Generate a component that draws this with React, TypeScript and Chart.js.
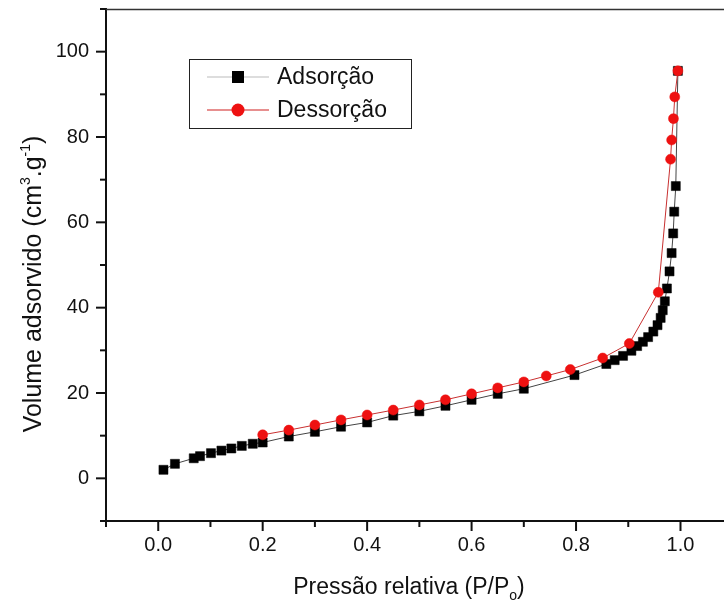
import React, { useEffect, useRef } from "react";
import { Chart, registerables } from "chart.js";

Chart.register(...registerables);

// Adsorption branch (relative pressure P/Po, volume cm3/g)
const adsP = [0.010, 0.032, 0.068, 0.080, 0.101, 0.121, 0.140, 0.160, 0.181, 0.200, 0.250, 0.300, 0.350, 0.400, 0.450, 0.500, 0.550, 0.600, 0.650, 0.700, 0.797, 0.858, 0.874, 0.890, 0.906, 0.917, 0.928, 0.938, 0.948, 0.956, 0.962, 0.966, 0.970, 0.974, 0.979, 0.983, 0.986, 0.988, 0.991, 0.995];
const adsV = [2.0, 3.4, 4.7, 5.2, 5.9, 6.5, 7.0, 7.6, 8.1, 8.4, 9.8, 10.9, 12.1, 13.1, 14.7, 15.7, 17.0, 18.4, 19.8, 21.0, 24.2, 26.8, 27.7, 28.7, 29.9, 31.0, 32.0, 33.1, 34.4, 35.9, 37.6, 39.4, 41.5, 44.5, 48.5, 52.8, 57.4, 62.5, 68.5, 95.5];

// Desorption branch
const desP = [0.995, 0.989, 0.9865, 0.983, 0.981, 0.9575, 0.902, 0.851, 0.789, 0.743, 0.700, 0.650, 0.600, 0.550, 0.500, 0.450, 0.400, 0.350, 0.300, 0.250, 0.200];
const desV = [95.5, 89.4, 84.3, 79.3, 74.8, 43.6, 31.6, 28.2, 25.5, 24.0, 22.6, 21.2, 19.8, 18.4, 17.2, 16.0, 14.85, 13.7, 12.5, 11.3, 10.2];

const seriesNames = ["Adsorção", "Dessorção"];
const xTitleMain = "Pressão relativa (P/P";
const xTitleSub = "o";
const yTitleParts = ["Volume adsorvido (cm", "3", ".g", "-1", ")"];

const FONT = '"Liberation Sans", Arial, sans-serif';

type Run = { t: string; size: number; dy: number };

function drawRuns(ctx: CanvasRenderingContext2D, runs: Run[], cx: number, baseY: number) {
  let total = 0;
  const widths: number[] = [];
  for (const r of runs) {
    ctx.font = `${r.size}px ${FONT}`;
    const w = ctx.measureText(r.t).width;
    widths.push(w);
    total += w;
  }
  let x = cx - total / 2;
  ctx.textAlign = "left";
  ctx.textBaseline = "alphabetic";
  runs.forEach((r, i) => {
    ctx.font = `${r.size}px ${FONT}`;
    ctx.fillText(r.t, x, baseY + r.dy);
    x += widths[i];
  });
}

const decorPlugin = {
  id: "decor",
  afterDraw(chart: any) {
    const { ctx, chartArea } = chart;
    const xs = chart.scales.x;
    const ys = chart.scales.y;
    ctx.save();
    // top frame line
    ctx.strokeStyle = "#333";
    ctx.lineWidth = 1.5;
    ctx.beginPath();
    ctx.moveTo(chartArea.left, chartArea.top + 0.5);
    ctx.lineTo(chart.width, chartArea.top + 0.5);
    ctx.stroke();

    // tick marks
    ctx.strokeStyle = "#111";
    ctx.lineWidth = 2;
    for (let k = -1; k <= 11; k++) {
      const v = k * 10;
      const py = ys.getPixelForValue(v);
      const len = k % 2 === 0 ? 10 : 6;
      ctx.beginPath();
      ctx.moveTo(chartArea.left - len, py);
      ctx.lineTo(chartArea.left, py);
      ctx.stroke();
    }
    for (let k = -1; k <= 10; k++) {
      const v = k / 10;
      const px = xs.getPixelForValue(v);
      const len = k % 2 === 0 ? 10 : 6;
      ctx.beginPath();
      ctx.moveTo(px, chartArea.bottom);
      ctx.lineTo(px, chartArea.bottom + len);
      ctx.stroke();
    }

    // axis titles
    ctx.fillStyle = "#111";
    drawRuns(
      ctx,
      [
        { t: xTitleMain, size: 23, dy: 0 },
        { t: xTitleSub, size: 14, dy: 6 },
        { t: ")", size: 23, dy: 0 },
      ],
      409,
      594
    );
    ctx.save();
    ctx.translate(32, 284);
    ctx.rotate(-Math.PI / 2);
    drawRuns(
      ctx,
      [
        { t: yTitleParts[0], size: 25, dy: 0 },
        { t: yTitleParts[1], size: 14, dy: -11 },
        { t: yTitleParts[2], size: 25, dy: 0 },
        { t: yTitleParts[3], size: 14, dy: -11 },
        { t: yTitleParts[4], size: 25, dy: 0 },
      ],
      0,
      9
    );
    ctx.restore();

    // legend
    const bx = 189.5, by = 59.5, bw = 222, bh = 69;
    ctx.fillStyle = "#fff";
    ctx.fillRect(bx, by, bw, bh);
    ctx.strokeStyle = "#222";
    ctx.lineWidth = 1;
    ctx.strokeRect(bx, by, bw, bh);
    const rows = [
      { y: 77, line: "#bbbbbb", kind: "rect" },
      { y: 110, line: "#d02020", kind: "circle" },
    ];
    rows.forEach((r, i) => {
      ctx.strokeStyle = r.line;
      ctx.lineWidth = 1.2;
      ctx.beginPath();
      ctx.moveTo(207, r.y);
      ctx.lineTo(269, r.y);
      ctx.stroke();
      if (r.kind === "rect") {
        ctx.fillStyle = "#000";
        ctx.fillRect(238 - 6, r.y - 6, 12, 12);
      } else {
        ctx.fillStyle = "#ee1111";
        ctx.beginPath();
        ctx.arc(238, r.y, 6.5, 0, Math.PI * 2);
        ctx.fill();
      }
      ctx.fillStyle = "#111";
      ctx.font = `23px ${FONT}`;
      ctx.textAlign = "left";
      ctx.textBaseline = "middle";
      ctx.fillText(seriesNames[i], 277, r.y + 1);
    });
    ctx.restore();
  },
};

export default function App() {
  const ref = useRef<HTMLCanvasElement | null>(null);
  useEffect(() => {
    if (!ref.current) return;
    const adsData = adsP.map((x, i) => ({ x, y: adsV[i] }));
    const desData = desP.map((x, i) => ({ x, y: desV[i] }));
    const chart = new Chart(ref.current, {
      type: "scatter",
      data: {
        datasets: [
          {
            label: seriesNames[0],
            data: adsData,
            showLine: true,
            borderColor: "#444444",
            borderWidth: 1,
            pointStyle: "rect",
            pointRadius: 6.4,
            pointBorderWidth: 0.5,
            pointBackgroundColor: "#000000",
            pointBorderColor: "#000000",
            order: 2,
          },
          {
            label: seriesNames[1],
            data: desData,
            showLine: true,
            borderColor: "#c83030",
            borderWidth: 1,
            pointStyle: "circle",
            pointRadius: 5,
            pointBorderWidth: 0.5,
            pointBackgroundColor: "#ee1111",
            pointBorderColor: "#ee1111",
            order: 1,
          },
        ],
      },
      options: {
        animation: false,
        responsive: false,
        devicePixelRatio: 1,
        layout: { autoPadding: false, padding: { top: 9, right: 0, left: 0, bottom: 0 } },
        plugins: { legend: { display: false }, tooltip: { enabled: false }, title: { display: false } },
        scales: {
          x: {
            type: "linear",
            min: -0.1,
            max: 1.0833,
            afterFit: (s: any) => {
              s.height = 81;
              s.paddingLeft = 0;
              s.paddingRight = 0;
            },
            grid: { display: false, drawTicks: false },
            border: { display: true, color: "#111", width: 2 },
            ticks: {
              stepSize: 0.1,
              includeBounds: false,
              padding: 12,
              color: "#111",
              font: { family: FONT, size: 20 },
              autoSkip: false,
              maxRotation: 0,
              callback: (v: any) => {
                const n = Math.round(Number(v) * 10);
                if (n < 0 || n > 10 || n % 2 !== 0) return "";
                return (n / 10).toFixed(1);
              },
            },
          },
          y: {
            type: "linear",
            min: -10,
            max: 110,
            afterFit: (s: any) => {
              s.width = 106;
              s.paddingTop = 0;
              s.paddingBottom = 0;
            },
            grid: { display: false, drawTicks: false },
            border: { display: true, color: "#111", width: 2 },
            ticks: {
              stepSize: 10,
              includeBounds: false,
              padding: 17,
              color: "#111",
              font: { family: FONT, size: 20 },
              autoSkip: false,
              callback: (v: any) => {
                const n = Math.round(Number(v));
                if (n < 0 || n > 100 || n % 20 !== 0) return "";
                return String(n);
              },
            },
          },
        },
      },
      plugins: [decorPlugin],
    });
    return () => chart.destroy();
  }, []);
  return (
    <div style={{ position: "fixed", left: 0, top: 0, width: 724, height: 602, background: "#fff" }}>
      <canvas ref={ref} width={724} height={602} style={{ width: 724, height: 602, display: "block" }} />
    </div>
  );
}
